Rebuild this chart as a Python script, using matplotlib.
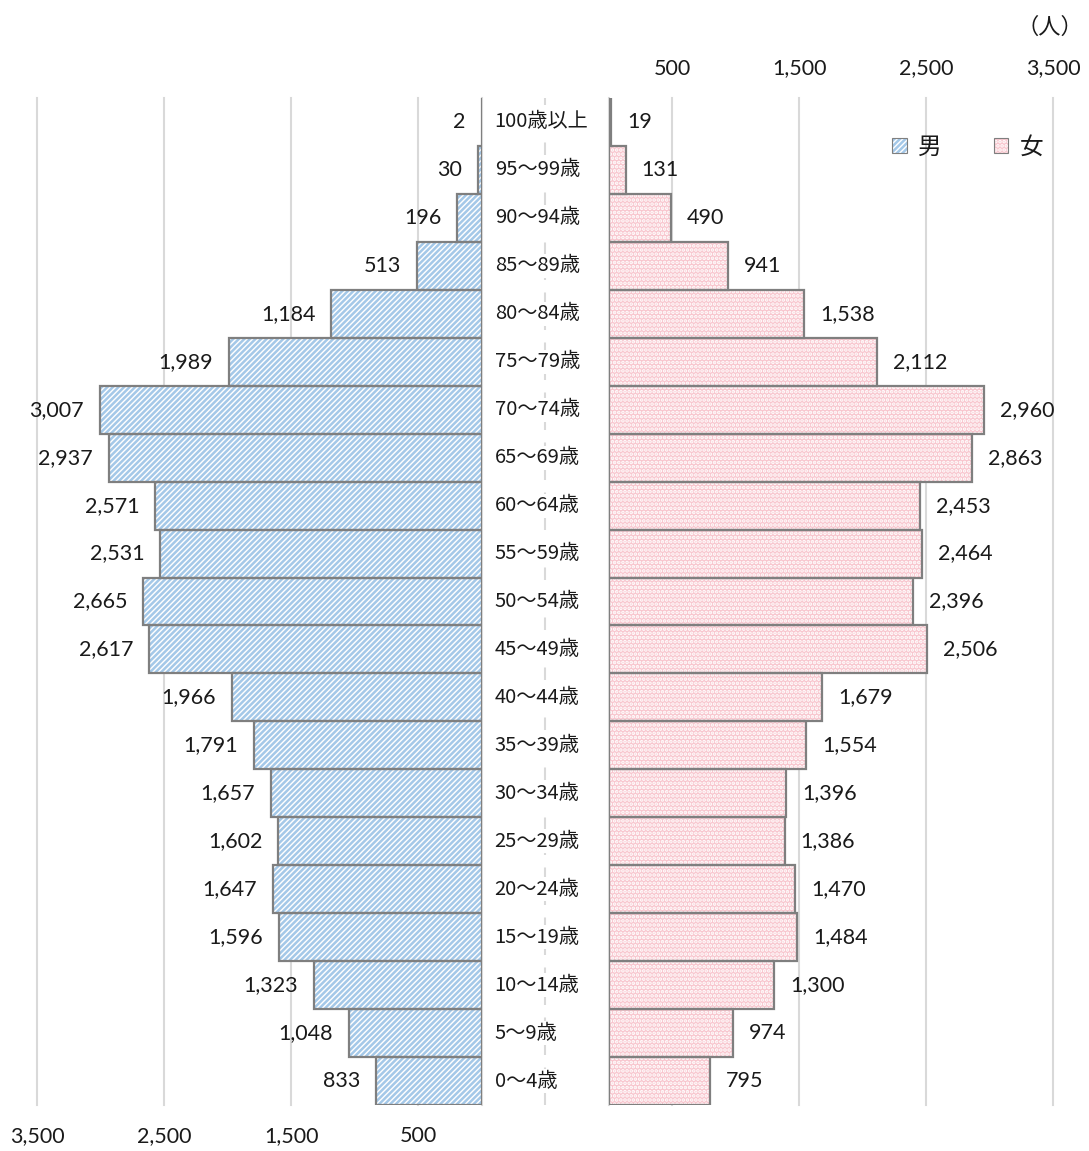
import matplotlib
matplotlib.use("Agg")
import matplotlib.pyplot as plt
from matplotlib.patches import Patch
from matplotlib.legend_handler import HandlerTuple

categories = ["0～4歳", "5～9歳", "10～14歳", "15～19歳", "20～24歳", "25～29歳",
              "30～34歳", "35～39歳", "40～44歳", "45～49歳", "50～54歳", "55～59歳",
              "60～64歳", "65～69歳", "70～74歳", "75～79歳", "80～84歳", "85～89歳",
              "90～94歳", "95～99歳", "100歳以上"]
male = [833, 1048, 1323, 1596, 1647, 1602, 1657, 1791, 1966, 2617, 2665, 2531,
        2571, 2937, 3007, 1989, 1184, 513, 196, 30, 2]
female = [795, 974, 1300, 1484, 1470, 1386, 1396, 1554, 1679, 2506, 2396, 2464,
          2453, 2863, 2960, 2112, 1538, 941, 490, 131, 19]
tick_vals = [500, 1500, 2500, 3500]
tick_labels = ["500", "1,500", "2,500", "3,500"]

NUM_FONT = ["Lato", "DejaVu Sans"]
JP_FONT = ["Noto Sans CJK JP", "DejaVu Sans"]
TXT = "#1a1a1a"
GRID = "#D9D9D9"
EDGE = "#7F7F7F"
BLUE = "#A4C8E8"
PINK_FACE = "#F8C6CE"

plt.rcParams["hatch.linewidth"] = 1.8

W, H = 1089, 1151
fig = plt.figure(figsize=(W / 100, H / 100), dpi=100)

y0 = 98
y1 = 1105
bottom = 1 - y1 / H
height = (y1 - y0) / H

axL = fig.add_axes([37 / W, bottom, 445 / W, height])
axR = fig.add_axes([609 / W, bottom, 444 / W, height])
axM = fig.add_axes([482 / W, bottom, 127 / W, height])

ypos = list(range(len(categories)))

for ax in (axL, axR):
    ax.set_ylim(-0.5, len(categories) - 0.5)
    ax.set_yticks([])
    for s in ax.spines.values():
        s.set_visible(False)
    for v in tick_vals:
        ax.axvline(v, color=GRID, lw=1.5, zorder=0, clip_on=False)
    ax.set_xticks(tick_vals)
    ax.set_xticklabels(tick_labels, fontfamily=NUM_FONT)
    ax.axvline(0, color=GRID, lw=1.5, zorder=0, clip_on=False)

axL.tick_params(axis="x", length=0, labelsize=15.5, colors=TXT, pad=15)
axR.tick_params(axis="x", length=0, labelsize=15.5, colors=TXT, pad=14)

axL.set_xlim(3500, 0)
axR.set_xlim(0, 3500)
axR.xaxis.tick_top()

# male bars: hatch layer + border layer
axL.barh(ypos, male, height=1.0, facecolor="white", edgecolor=BLUE, hatch="//////",
         linewidth=0, zorder=2)
axL.barh(ypos, male, height=1.0, fill=False, edgecolor=EDGE, linewidth=1.6, zorder=3)

# female bars
axR.barh(ypos, female, height=1.0, facecolor=PINK_FACE, edgecolor="white", hatch="....",
         linewidth=0, zorder=2)
axR.barh(ypos, female, height=1.0, fill=False, edgecolor=EDGE, linewidth=1.6, zorder=3)

for y, v in zip(ypos, male):
    axL.annotate(f"{v:,}", xy=(v, y), xytext=(-11.5, 0), textcoords="offset points",
                 ha="right", va="center", fontsize=15.5, color=TXT, fontfamily=NUM_FONT)
for y, v in zip(ypos, female):
    axR.annotate(f"{v:,}", xy=(v, y), xytext=(11.5, 0), textcoords="offset points",
                 ha="left", va="center", fontsize=15.5, color=TXT, fontfamily=NUM_FONT)

# middle axis with category labels
axM.set_ylim(-0.5, len(categories) - 0.5)
axM.set_xlim(0, 1)
axM.axis("off")
axM.axvline(0.496, color=GRID, lw=1.5, ls=(0, (6, 6)), zorder=0)
for y, c in zip(ypos, categories):
    axM.text(0.10, y, c, ha="left", va="center", fontsize=14.5, color=TXT,
             fontfamily=JP_FONT, zorder=2,
             bbox=dict(facecolor="white", edgecolor="none", pad=1))

# legend
h_m = (Patch(facecolor="white", edgecolor=BLUE, hatch="//////", linewidth=0),
       Patch(fill=False, edgecolor=EDGE, linewidth=0.8))
h_f = (Patch(facecolor=PINK_FACE, edgecolor="white", hatch="....", linewidth=0),
       Patch(fill=False, edgecolor=EDGE, linewidth=0.8))
leg = axR.legend([h_m, h_f], ["男", "女"], handler_map={tuple: HandlerTuple(ndivide=1, pad=0)},
                 loc="upper right", bbox_to_anchor=(1.0, 0.972), ncol=2, frameon=False,
                 prop={"family": JP_FONT, "size": 17}, handlelength=0.6, handleheight=0.6,
                 handletextpad=0.5, columnspacing=2.2, borderaxespad=0)
for t in leg.get_texts():
    t.set_color(TXT)

fig.text(1083 / W, 1 - 27 / H, "（人）", ha="right", va="center", fontsize=16,
         color=TXT, fontfamily=JP_FONT)

fig.savefig("out.png", dpi=100)
